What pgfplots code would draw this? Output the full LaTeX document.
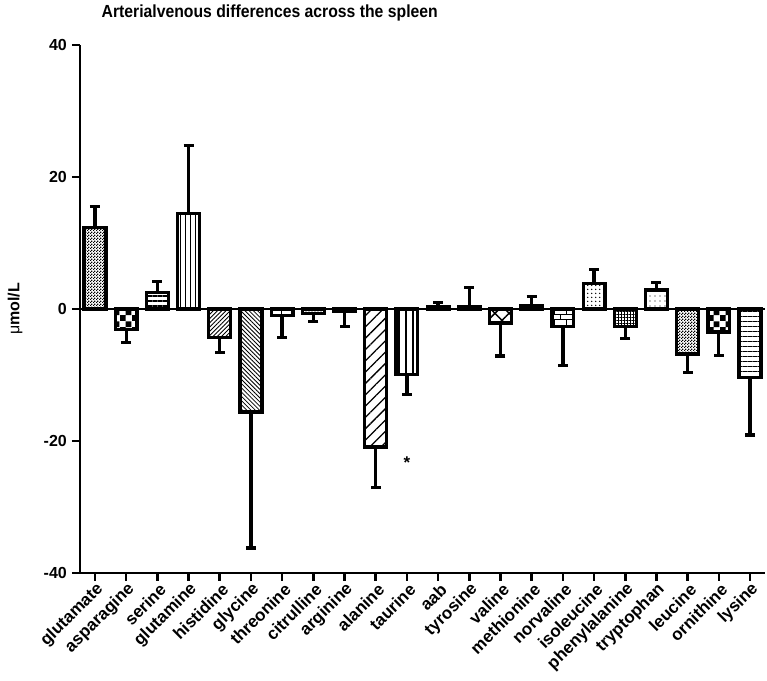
\documentclass[border=0pt]{standalone}
\usepackage{fontspec}
\setmainfont{Liberation Sans}
\newfontfamily\narrowfont{Liberation Sans}[FakeStretch=0.9]
\usepackage{pgfplots}
\pgfplotsset{compat=1.18}
\usetikzlibrary{patterns, patterns.meta, calc}

\pgfdeclarepatternformonly{bigchecker}{\pgfpointorigin}{\pgfqpoint{12pt}{12pt}}{\pgfqpoint{12pt}{12pt}}{%
 \pgfpathrectangle{\pgfpointorigin}{\pgfqpoint{6pt}{6pt}}%
 \pgfpathrectangle{\pgfqpoint{6pt}{6pt}}{\pgfqpoint{6pt}{6pt}}%
 \pgfusepath{fill}}
\pgfdeclarepatternformonly{smallchecker}{\pgfpointorigin}{\pgfqpoint{3pt}{3pt}}{\pgfqpoint{3pt}{3pt}}{%
 \pgfpathrectangle{\pgfpointorigin}{\pgfqpoint{1.5pt}{1.5pt}}%
 \pgfpathrectangle{\pgfqpoint{1.5pt}{1.5pt}}{\pgfqpoint{1.5pt}{1.5pt}}%
 \pgfusepath{fill}}

\pgfplotsset{
 bb/.style={draw=black, line width=3.3pt, bar shift=0pt,
   error bars/y explicit, error bars/y dir=#1,
   error bars/error mark=-,
   error bars/error bar style={line width=3.3pt, draw=black, solid},
   error bars/error mark options={rotate=90, line width=3.3pt, mark size=5pt, black}}
}

\begin{document}
\begin{tikzpicture}
\begin{axis}[
 name=ax, scale only axis, width=685pt, height=528pt,
 xmin=-0.48, xmax=21.48, ymin=-40, ymax=40,
 ybar, bar width=0.7,
 axis lines*=left, axis line style={line width=2.5pt},
 ytick={-40,-20,0,20,40}, yticklabels={-40,-20,0,20,40},
 xtick={0,...,21},
 xticklabels={glutamate,asparagine,serine,glutamine,histidine,glycine,threonine,citrulline,arginine,alanine,taurine,aab,tyrosine,valine,methionine,norvaline,isoleucine,phenylalanine,tryptophan,leucine,ornithine,lysine},
 tick align=outside, major tick length=8pt,
 tick style={line width=2.5pt, black},
 x tick label style={rotate=45, anchor=east, font=\bfseries\fontsize{17}{17}\selectfont, inner sep=1pt, xshift=1pt, yshift=-8pt},
 y tick label style={font=\bfseries\fontsize{16}{16}\selectfont, inner sep=2pt, xshift=-3pt},
 ylabel={μ\textbf{mol/L}},
 every axis y label/.style={at={(rel axis cs:0,0.5)}, rotate=90, anchor=center, yshift=65pt, font=\fontsize{16}{16}\selectfont},
 title={\textbf{Arterialvenous differences across the spleen}},
 title style={at={(rel axis cs:0.277,1)}, anchor=center, yshift=26pt, font=\narrowfont\fontsize{17.5}{17.5}\selectfont},
 clip=false,
]
% glutamate
\addplot[pattern=smallchecker, bb=plus] coordinates {(0,12.4) +- (0,3.1)};
% asparagine
\addplot[pattern=bigchecker, bb=minus] coordinates {(1,-3.1) +- (0,2.0)};
% serine
\addplot[pattern={Lines[angle=0,distance=5pt,line width=1.5pt]}, bb=plus] coordinates {(2,2.5) +- (0,1.7)};
% glutamine
\addplot[pattern={Lines[angle=90,distance=5pt,line width=1pt]}, bb=plus] coordinates {(3,14.5) +- (0,10.3)};
% histidine
\addplot[pattern={Lines[angle=45,distance=3pt,line width=0.8pt]}, bb=minus] coordinates {(4,-4.3) +- (0,2.3)};
% glycine
\addplot[pattern={Lines[angle=-45,distance=3pt,line width=0.8pt]}, bb=minus] coordinates {(5,-15.6) +- (0,20.6)};
% threonine
\addplot[pattern=bricks, bb=minus] coordinates {(6,-1.0) +- (0,3.3)};
% citrulline
\addplot[pattern={Dots[distance=3pt,radius=0.7pt]}, bb=minus] coordinates {(7,-0.7) +- (0,1.2)};
% arginine
\addplot[fill=black, bb=minus] coordinates {(8,-0.3) +- (0,2.4)};
% alanine
\addplot[pattern={Lines[angle=45,distance=8pt,line width=1.3pt]}, bb=minus] coordinates {(9,-20.9) +- (0,6.1)};
% taurine
\addplot[pattern={Lines[angle=90,distance=7pt,line width=1.2pt]}, bb=minus] coordinates {(10,-9.9) +- (0,3.1)};
% aab
\addplot[fill=black, bb=plus] coordinates {(11,0.4) +- (0,0.6)};
% tyrosine
\addplot[fill=black, bb=plus] coordinates {(12,0.3) +- (0,3.0)};
% valine
\addplot[pattern={Hatch[angle=45,distance=10pt,line width=1.5pt]}, bb=minus] coordinates {(13,-2.1) +- (0,5.0)};
% methionine
\addplot[fill=black, bb=plus] coordinates {(14,0.5) +- (0,1.4)};
% norvaline
\addplot[pattern=bricks, bb=minus] coordinates {(15,-2.6) +- (0,6.0)};
% isoleucine
\addplot[pattern={Dots[distance=4pt,radius=0.9pt]}, bb=plus] coordinates {(16,3.9) +- (0,2.1)};
% phenylalanine
\addplot[pattern={Hatch[angle=0,distance=3pt,line width=1pt]}, bb=minus] coordinates {(17,-2.6) +- (0,1.9)};
% tryptophan
\addplot[pattern={Dots[distance=5pt,radius=0.6pt]}, bb=plus] coordinates {(18,2.9) +- (0,1.1)};
% leucine
\addplot[pattern=smallchecker, bb=minus] coordinates {(19,-6.8) +- (0,2.8)};
% ornithine
\addplot[pattern=bigchecker, bb=minus] coordinates {(20,-3.5) +- (0,3.5)};
% lysine
\addplot[pattern={Lines[angle=0,distance=5pt,line width=0.8pt]}, bb=minus] coordinates {(21,-10.35) +- (0,8.75)};

\draw[line width=2.5pt] (axis cs:-0.48,0) -- (axis cs:21.48,0);
\node[font=\bfseries\fontsize{17}{17}\selectfont] at (axis cs:10,-23.3) {*};
\end{axis}
\pgfresetboundingbox
\path ($(ax.south west)+(-80pt,-108pt)$) rectangle ($(ax.north east)+(2pt,45pt)$);
\end{tikzpicture}
\end{document}
